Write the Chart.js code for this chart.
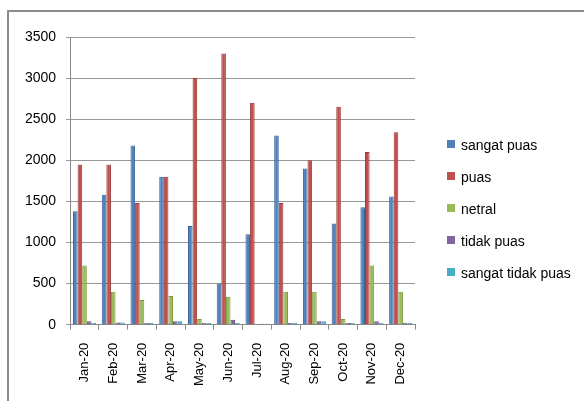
<!DOCTYPE html>
<html>
<head>
<meta charset="utf-8">
<script src="https://cdn.jsdelivr.net/npm/chart.js@4"></script>
<style>
  body { margin: 0; background: #fff; overflow: hidden; }
  #wrap { position: relative; width: 584px; height: 401px; }
  #frame { position: absolute; left: 7px; top: 10px; width: 600px; height: 420px;
           border-top: 2px solid #8c8c8c; border-left: 2px solid #8c8c8c; }
  canvas { position: absolute; left: 0; top: 0; }
  #legend { position: absolute; left: 447px; top: 136px; margin: 0; padding: 0; list-style: none;
            font-family: 'Liberation Sans', sans-serif; font-size: 14px; color: #000; }
  #legend li { height: 32px; line-height: 18px; white-space: nowrap; }
  #legend span { display: inline-block; width: 8px; height: 8px; margin-right: 6px; vertical-align: 2px; }
</style>
</head>
<body>
<div id="wrap">
  <div id="frame"></div>
  <canvas id="myChart" width="584" height="401"></canvas>
  <ul id="legend"></ul>
</div>
<script>
// months
const labels = ['Jan-20', 'Feb-20', 'Mar-20', 'Apr-20', 'May-20', 'Jun-20',
                'Jul-20', 'Aug-20', 'Sep-20', 'Oct-20', 'Nov-20', 'Dec-20'];
// survey answers per month
const sangatPuas      = [1380, 1580, 2180, 1800, 1200, 500, 1100, 2300, 1900, 1230, 1430, 1560];
const puas            = [1950, 1950, 1480, 1800, 3000, 3300, 2700, 1480, 2000, 2650, 2100, 2340];
const netral          = [720, 400, 300, 350, 70, 340, 5, 400, 400, 70, 720, 400];
const tidakPuas       = [40, 25, 20, 40, 20, 60, 10, 20, 40, 20, 40, 20];
const sangatTidakPuas = [20, 25, 20, 40, 20, 20, 10, 20, 40, 20, 20, 20];
// y axis
const yTicks = [0, 500, 1000, 1500, 2000, 2500, 3000, 3500];

const xFont = { family: 'Liberation Sans', size: 13 };
const font = { family: 'Liberation Sans', size: 14 };

const ctx = document.getElementById('myChart');
const chart = new Chart(ctx, {
  type: 'bar',
  data: {
    labels: labels,
    datasets: [
      { label: 'sangat puas', data: sangatPuas, backgroundColor: '#4F81BD', borderColor: '#3a6699', borderWidth: 1 },
      { label: 'puas', data: puas, backgroundColor: '#C0504D', borderColor: '#9a3b39', borderWidth: 1 },
      { label: 'netral', data: netral, backgroundColor: '#9BBB59', borderColor: '#7a9a40', borderWidth: 1 },
      { label: 'tidak puas', data: tidakPuas, backgroundColor: '#8064A2', borderColor: '#634b82', borderWidth: 1 },
      { label: 'sangat tidak puas', data: sangatTidakPuas, backgroundColor: '#4BACC6', borderColor: '#3590a8', borderWidth: 1 }
    ]
  },
  options: {
    responsive: false,
    animation: false,
    layout: { padding: { top: 37, left: 15, right: 169, bottom: 2 } },
    datasets: { bar: { categoryPercentage: 0.8, barPercentage: 1.0 } },
    scales: {
      x: {
        ticks: { color: '#000', font: xFont, minRotation: 90, maxRotation: 90, padding: 13 },
        grid: { drawOnChartArea: false, drawTicks: true, tickLength: 5, color: '#888' },
        border: { color: '#888' }
      },
      y: {
        min: 0,
        max: 3500,
        afterBuildTicks: axis => { axis.ticks = yTicks.map(v => ({ value: v })); },
        ticks: { color: '#000', font: font, padding: 10, callback: v => String(v) },
        grid: { color: '#999', tickLength: 4 },
        border: { color: '#888' }
      }
    },
    plugins: {
      legend: { display: false },
      tooltip: { enabled: false }
    }
  }
});

// legend on the right, built from the datasets
const legendEl = document.getElementById('legend');
chart.data.datasets.forEach(ds => {
  const li = document.createElement('li');
  const box = document.createElement('span');
  box.style.background = ds.backgroundColor;
  li.appendChild(box);
  li.appendChild(document.createTextNode(ds.label));
  legendEl.appendChild(li);
});
</script>
</body>
</html>
